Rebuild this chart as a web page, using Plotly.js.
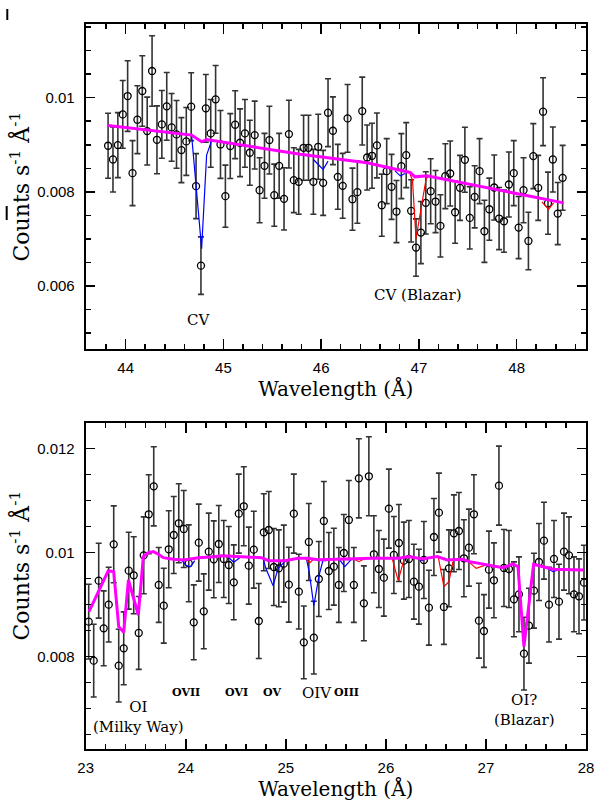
<!DOCTYPE html>
<html>
<head>
<meta charset="utf-8">
<script src="https://cdn.plot.ly/plotly-3.0.1.min.js"></script>
<style>html,body{margin:0;padding:0;background:#fff;}#chart{width:597px;height:802px;}</style>
</head>
<body>
<div id="chart"></div>
<script>
// ---------- Top panel (CV region) ----------
const topWave = [43.82,43.87,43.92,43.97,44.02,44.07,44.12,44.17,44.22,44.27,
44.32,44.37,44.42,44.47,44.52,44.57,44.62,44.67,44.72,44.77,
44.82,44.87,44.92,44.97,45.02,45.07,45.12,45.17,45.22,45.27,
45.32,45.37,45.42,45.47,45.52,45.57,45.62,45.67,45.72,45.77,
45.82,45.87,45.92,45.97,46.02,46.07,46.12,46.17,46.22,46.27,
46.32,46.37,46.42,46.47,46.52,46.57,46.62,46.67,46.72,46.77,
46.82,46.87,46.92,46.97,47.02,47.07,47.12,47.17,47.22,47.27,
47.32,47.37,47.42,47.47,47.52,47.57,47.62,47.67,47.72,47.77,
47.82,47.87,47.92,47.97,48.02,48.07,48.12,48.17,48.22,48.27,
48.32,48.37,48.42,48.47];
const topCounts = [0.008979,0.008688,0.008993,0.009645,0.010035,0.008397,0.009532,0.010142,0.009291,0.010567,
0.009106,0.009433,0.009816,0.009369,0.009220,0.008887,0.009071,0.009809,0.008121,0.006433,
0.009773,0.009241,0.009965,0.009007,0.007908,0.008972,0.009426,0.009043,0.009241,0.008830,
0.009206,0.008035,0.008553,0.009099,0.007929,0.008553,0.007851,0.009227,0.008248,0.008213,
0.008936,0.008936,0.008213,0.008957,0.008191,0.009681,0.009298,0.008319,0.008128,0.009560,
0.007844,0.007993,0.009716,0.008730,0.008766,0.008986,0.007716,0.008440,0.008106,0.007582,
0.008546,0.008780,0.007596,0.006816,0.007135,0.007766,0.008014,0.007794,0.007277,0.008333,
0.008390,0.007567,0.008085,0.008681,0.007447,0.007894,0.008440,0.007163,0.007631,0.008092,
0.007433,0.007376,0.008156,0.008397,0.007241,0.008035,0.006957,0.008759,0.008085,0.009702,
0.007759,0.008688,0.007539,0.008298];
const topErr = [0.00069,0.00069,0.00069,0.00072,0.00075,0.00069,0.00072,0.00075,0.00072,0.00075,
0.00072,0.00072,0.00072,0.00072,0.00072,0.00069,0.00072,0.00072,0.00069,0.00061,
0.00072,0.00072,0.00072,0.00072,0.00066,0.00069,0.00072,0.00072,0.00072,0.00069,
0.00072,0.00069,0.00069,0.00072,0.00066,0.00069,0.00066,0.00072,0.00069,0.00069,
0.00069,0.00069,0.00069,0.00069,0.00069,0.00072,0.00072,0.00069,0.00069,0.00072,
0.00066,0.00066,0.00072,0.00069,0.00069,0.00069,0.00066,0.00069,0.00069,0.00066,
0.00069,0.00069,0.00066,0.00061,0.00066,0.00066,0.00069,0.00066,0.00066,0.00069,
0.00069,0.00066,0.00069,0.00069,0.00066,0.00066,0.00069,0.00066,0.00066,0.00069,
0.00066,0.00066,0.00069,0.00069,0.00066,0.00069,0.00061,0.00069,0.00069,0.00072,
0.00066,0.00069,0.00066,0.00069];
// continuum model (magenta)
const topModelWave = [43.82,44.675,44.777,44.828,45.785,46.125,46.467,46.91,46.96,47.08,48.48];
const topModelCounts = [0.009411,0.009206,0.009064,0.009113,0.008801,0.008709,0.008617,0.008411,0.008319,0.008340,0.007766];
// Galactic absorption model (blue)
const topGalWave = [44.675,44.777,44.828,44.879,null,45.92,46.02,46.07,null,46.756,46.808,46.86];
const topGalCounts = [0.009190,0.006794,0.008780,0.009085,null,0.008688,0.008475,0.008652,null,0.008447,0.008340,0.008390];
// Blazar absorption model (red)
const topBlzWave = [46.91,46.934,46.97,47.074,47.10,null,48.258,48.326,48.377];
const topBlzCounts = [0.008376,0.008248,0.007007,0.008284,0.008340,null,0.007787,0.007631,0.007766];

// ---------- Bottom panel (O region) ----------
const botWave = [23.03,23.08,23.13,23.18,23.23,23.28,23.33,23.38,23.43,23.48,
23.53,23.58,23.63,23.68,23.73,23.78,23.83,23.88,23.93,23.98,
24.03,24.08,24.13,24.18,24.23,24.28,24.33,24.38,24.43,24.48,
24.53,24.58,24.63,24.68,24.73,24.78,24.83,24.88,24.93,24.98,
25.03,25.08,25.13,25.18,25.23,25.28,25.33,25.38,25.43,25.48,
25.53,25.58,25.63,25.68,25.73,25.78,25.83,25.88,25.93,25.98,
26.03,26.08,26.13,26.18,26.23,26.28,26.33,26.38,26.43,26.48,
26.53,26.58,26.63,26.68,26.73,26.78,26.83,26.88,26.93,26.98,
27.03,27.08,27.13,27.18,27.23,27.28,27.33,27.38,27.43,27.48,
27.53,27.58,27.63,27.68,27.73,27.78,27.83,27.88,27.93,27.98];
const botCounts = [0.008667,0.007917,0.009455,0.008538,0.008994,0.010154,0.007821,0.008154,0.009647,0.009558,
0.008449,0.009942,0.010731,0.011269,0.009372,0.008974,0.010058,0.010333,0.010558,0.010449,
0.009788,0.008654,0.010186,0.008865,0.010013,0.009865,0.010160,0.009872,0.009756,0.009423,
0.010744,0.010885,0.009744,0.010051,0.008679,0.010385,0.010429,0.009718,0.009692,0.009782,
0.009378,0.010744,0.009244,0.008269,0.010199,0.008359,0.009487,0.010603,0.009641,0.009724,
0.009372,0.009987,0.010622,0.009372,0.011423,0.009019,0.011462,0.009962,0.009679,0.009513,
0.010840,0.009949,0.010179,0.009840,0.009872,0.009436,0.009340,0.009853,0.008936,0.010295,
0.010763,0.008949,0.009692,0.010365,0.010410,0.009885,0.010090,0.010731,0.008686,0.008487,
0.009667,0.009462,0.011282,0.009699,0.009679,0.009096,0.009192,0.008051,0.008590,0.009263,
0.009814,0.010224,0.008994,0.009872,0.009051,0.010013,0.009942,0.009192,0.009154,0.009417];
const botErr = [0.00072,0.00070,0.00072,0.00072,0.00072,0.00074,0.00070,0.00070,0.00074,0.00074,
0.00070,0.00074,0.00076,0.00076,0.00072,0.00072,0.00074,0.00074,0.00076,0.00074,
0.00074,0.00072,0.00074,0.00072,0.00074,0.00074,0.00074,0.00074,0.00074,0.00072,
0.00076,0.00076,0.00074,0.00074,0.00072,0.00074,0.00074,0.00074,0.00074,0.00074,
0.00072,0.00076,0.00072,0.00070,0.00074,0.00070,0.00072,0.00076,0.00074,0.00074,
0.00072,0.00074,0.00076,0.00072,0.00076,0.00072,0.00076,0.00074,0.00074,0.00074,
0.00076,0.00074,0.00074,0.00074,0.00074,0.00072,0.00072,0.00074,0.00072,0.00074,
0.00076,0.00072,0.00074,0.00074,0.00074,0.00074,0.00074,0.00076,0.00072,0.00070,
0.00074,0.00072,0.00076,0.00074,0.00074,0.00072,0.00072,0.00070,0.00072,0.00072,
0.00074,0.00074,0.00072,0.00074,0.00072,0.00074,0.00074,0.00072,0.00072,0.00072];
const botModelWave = [23.033,23.226,23.28,23.33,23.38,23.427,23.526,23.576,23.626,23.676,23.726,23.776,23.876,23.976,24.026,24.126,24.276,24.356,24.556,24.756,24.83,24.99,25.123,25.223,25.323,25.523,25.863,26.13,26.23,26.363,26.513,26.613,26.763,26.836,27.036,27.17,27.27,27.32,27.38,27.476,27.57,27.67,27.973];
const botModelCounts = [0.008859,0.009647,0.009628,0.008571,0.008462,0.009468,0.008795,0.009917,0.009994,0.010013,0.009962,0.009897,0.009865,0.009853,0.009865,0.009897,0.009917,0.009936,0.009917,0.009897,0.009840,0.009840,0.009885,0.009885,0.009859,0.009872,0.009885,0.009885,0.009917,0.009872,0.009917,0.009853,0.009865,0.009821,0.009756,0.009705,0.009776,0.009724,0.008186,0.009769,0.009724,0.009673,0.009660];
const botGalWave = [23.956,24.006,24.05,24.09,null,24.423,24.48,24.54,null,24.773,24.80,24.873,24.923,24.99,null,25.206,25.233,25.28,25.333,25.373,null,25.53,25.59,25.65,null,26.313,26.363,26.413,null,27.586,27.67,27.736];
const botGalCounts = [0.009853,0.009744,0.009724,0.009840,null,0.009910,0.009808,0.009897,null,0.009885,0.009692,0.009359,0.009692,0.009821,null,0.009872,0.009628,0.008974,0.009564,0.009853,null,0.009872,0.009724,0.009853,null,0.009885,0.009840,0.009885,null,0.009724,0.009628,0.009673];
const botBlzWave = [25.20,25.24,25.28,null,25.68,25.73,25.78,null,26.063,26.123,26.18,null,26.523,26.58,26.63,26.67,null,26.82,26.903,26.986];
const botBlzCounts = [0.009872,0.009801,0.009872,null,0.009872,0.009820,0.009872,null,0.009885,0.009455,0.009853,null,0.009917,0.009340,0.009436,0.009821,null,0.009830,0.009692,0.009750];

const topTicks = [0.006,0.008,0.01];
const topTickText = ['0.006','0.008','0.01'];
const botTicks = [0.008,0.01,0.012];
const botTickText = ['0.008','0.01','0.012'];

const serif = 'DejaVu Serif, serif';
const sans = 'Liberation Sans, Arial, sans-serif';

function dataTrace(x, y, err, xa, ya) {
  return {x:x, y:y, xaxis:xa, yaxis:ya, type:'scatter', mode:'markers',
    marker:{symbol:'circle-open', size:7, color:'#000', line:{width:1.3, color:'#000'}},
    error_y:{type:'data', array:err, visible:true, color:'#333', thickness:1.6, width:3},
    hoverinfo:'x+y'};
}
function lineTrace(x, y, color, w, xa, ya) {
  return {x:x, y:y, xaxis:xa, yaxis:ya, type:'scatter', mode:'lines',
    line:{color:color, width:w}, connectgaps:false, hoverinfo:'skip'};
}

const traces = [
  dataTrace(topWave, topCounts, topErr, 'x', 'y'),
  lineTrace(topGalWave, topGalCounts, '#0000ff', 1.2, 'x', 'y'),
  lineTrace(topBlzWave, topBlzCounts, '#ff0000', 1.2, 'x', 'y'),
  lineTrace(topModelWave, topModelCounts, '#ff00ff', 3, 'x', 'y'),
  dataTrace(botWave, botCounts, botErr, 'x2', 'y2'),
  lineTrace(botGalWave, botGalCounts, '#0000ff', 1.2, 'x2', 'y2'),
  lineTrace(botBlzWave, botBlzCounts, '#ff0000', 1.2, 'x2', 'y2'),
  lineTrace(botModelWave, botModelCounts, '#ff00ff', 3, 'x2', 'y2')
];

function xAxis(domain, range, anchor) {
  return {domain:domain, range:range, anchor:anchor, tickmode:'linear', tick0:0, dtick:1,
    ticks:'inside', ticklen:10, tickwidth:1.5, tickcolor:'#000',
    minor:{dtick:0.2, tick0:0, ticks:'inside', ticklen:5, tickwidth:1.5, tickcolor:'#000'},
    showline:true, linewidth:2, linecolor:'#000', mirror:'ticks',
    showgrid:false, zeroline:false, ticklabelstandoff:4,
    tickfont:{family:sans, size:15, color:'#000'},
    title:{text:'Wavelength (Å)', font:{family:serif, size:20, color:'#000'}, standoff:6}};
}
function yAxis(domain, range, anchor, tv, tt, withTitle) {
  const a = {domain:domain, range:range, anchor:anchor, tickmode:'array', tickvals:tv, ticktext:tt,
    ticks:'inside', ticklen:9, tickwidth:1.5, tickcolor:'#000',
    minor:{tickmode:'linear', dtick:0.0005, tick0:0, ticks:'inside', ticklen:5, tickwidth:1.5, tickcolor:'#000'},
    showline:true, linewidth:2, linecolor:'#000', mirror:'ticks',
    showgrid:false, zeroline:false, ticklabelstandoff:6,
    tickfont:{family:sans, size:15, color:'#000'}};
  if (withTitle) a.title = {text:'Counts s<sup>-1</sup> Å<sup>-1</sup>', font:{family:serif, size:22, color:'#000'}, standoff:1};
  return a;
}

const ann = (text, x, y, xr, yr, size, bold) => ({text: bold ? '<b>'+text+'</b>' : text, x:x, y:y, xref:xr, yref:yr,
  showarrow:false, xanchor:'center', yanchor:'middle', font:{family:serif, size:size, color:'#000'}});

const layout = {
  width:597, height:802, margin:{l:0, r:0, t:0, b:0},
  paper_bgcolor:'#fff', plot_bgcolor:'#fff', showlegend:false,
  xaxis: xAxis([0.14355, 0.98157], [43.591, 48.709], 'y'),
  yaxis: yAxis([0.56446, 0.97007], [0.004656, 0.011565], 'x', topTicks, topTickText, true),
  xaxis2: xAxis([0.14355, 0.98157], [23, 28], 'y2'),
  yaxis2: yAxis([0.06571, 0.47219], [0.006212, 0.012481], 'x2', botTicks, botTickText, false),
  annotations: [
    ann('CV', 44.743, 0.00527, 'x', 'y', 15),
    ann('CV (Blazar)', 46.995, 0.00580, 'x', 'y', 15),
    Object.assign(ann('OI<br>(Milky Way)', 23.528, 0.006835, 'x2', 'y2', 15), {}),
    ann('OVII', 24.00, 0.00730, 'x2', 'y2', 11, true),
    ann('OVI', 24.506, 0.00730, 'x2', 'y2', 11, true),
    ann('OV', 24.866, 0.00730, 'x2', 'y2', 11, true),
    ann('OIV', 25.316, 0.00730, 'x2', 'y2', 15),
    ann('OIII', 25.606, 0.00730, 'x2', 'y2', 11, true),
    ann('OI?<br>(Blazar)', 27.383, 0.00696, 'x2', 'y2', 15),
    {text:'Counts s<sup>-1</sup> Å<sup>-1</sup>', x:0.0335, y:0.2949, xref:'paper', yref:'paper',
     showarrow:false, textangle:-90, xanchor:'center', yanchor:'middle',
     font:{family:serif, size:22, color:'#000'}}
  ],
  shapes: [
    {type:'line', xref:'paper', yref:'paper', x0:0.0122, x1:0.0122, y0:0.9751, y1:0.9888, line:{color:'#000', width:2}},
    {type:'line', xref:'paper', yref:'paper', x0:0.0112, x1:0.0112, y0:0.7257, y1:0.7431, line:{color:'#000', width:2}}
  ]
};

Plotly.newPlot('chart', traces, layout, {staticPlot:true, displayModeBar:false});
</script>
</body>
</html>
